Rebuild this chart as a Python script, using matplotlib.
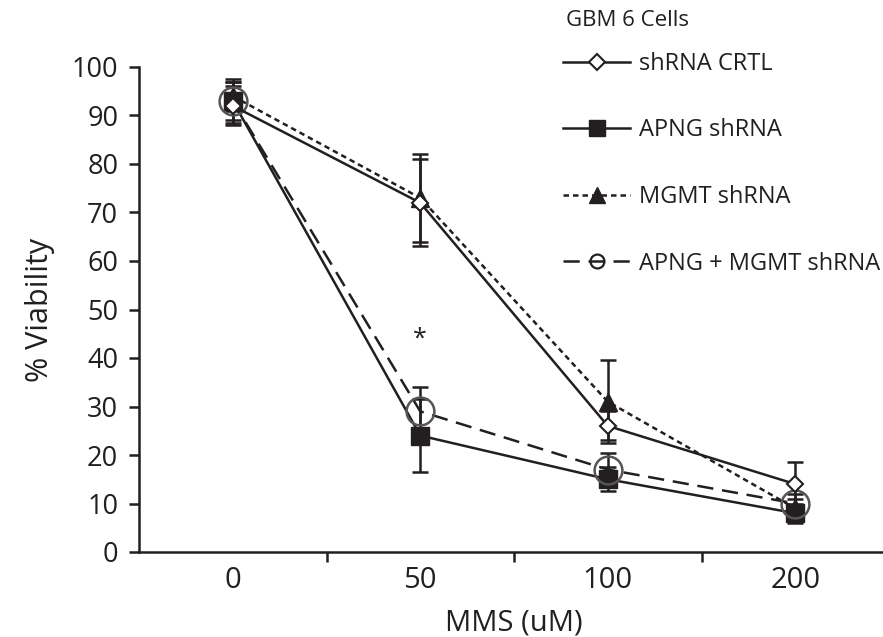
import matplotlib
matplotlib.use("Agg")
import matplotlib.pyplot as plt
from matplotlib.lines import Line2D
import numpy as np

plt.rcParams['font.family'] = ['Open Sans', 'DejaVu Sans']

doses = ["0", "50", "100", "200"]
series_names = ["shRNA CRTL", "APNG shRNA", "MGMT shRNA", "APNG + MGMT shRNA"]
crtl = [92, 72, 26, 14]
crtl_err = [4, 9, 3, 4.5]
apng = [93, 24, 15, 8]
apng_err = [4.5, 7.5, 2.5, 2]
mgmt = [94, 73, 31, 9]
mgmt_err = [3, 9, 8.5, 2]
both = [93, 29, 17, 10]
both_err = [4, 5, 3.5, 2]
legend_title = "GBM 6 Cells"
star_pos = (1, 44)

K = '#231f20'
fig = plt.figure(figsize=(8.83, 6.37), dpi=100)
ax = fig.add_axes([139/883, 85/637, 750/883, 485/637])
x = np.arange(len(doses))
lw = 1.8
d_mgmt = (2.2, 1.6)
d_both = (6.5, 3.5)

# error bars
for vals, errs in [(crtl, crtl_err), (apng, apng_err), (mgmt, mgmt_err), (both, both_err)]:
    ax.errorbar(x, vals, yerr=errs, fmt='none', ecolor=K, elinewidth=lw, capsize=6, capthick=lw, zorder=2)

ax.plot(x, crtl, color=K, lw=lw, marker='D', ms=8, mfc='white', mec=K, mew=1.5, zorder=4)
ax.plot(x, apng, color=K, lw=lw, marker='s', ms=13, mfc=K, mec=K, zorder=3)
ax.plot(x, mgmt, color=K, lw=lw, marker='^', ms=13, mfc=K, mec=K, zorder=3, dashes=d_mgmt)
ax.plot(x, both, color=K, lw=lw, marker='o', ms=20, mfc='none', mec='#555555', mew=1.8, zorder=3, dashes=d_both)

ax.text(star_pos[0], star_pos[1], '*', ha='center', va='center', fontsize=18, color=K)

ax.set_xlim(-0.5, 3.5)
ax.set_ylim(0, 100)
ax.set_yticks(np.arange(0, 101, 10))
ax.set_xticks(x)
ax.set_xticklabels(doses)
ax.set_xticks(np.arange(0.5, 3.0, 1.0), minor=True)
ax.tick_params(axis='x', which='major', length=0, pad=10, labelsize=21, colors=K)
ax.tick_params(axis='x', which='minor', length=7, width=1.8, direction='out', color=K)
ax.tick_params(axis='y', length=7, width=1.8, direction='out', labelsize=19.5, colors=K, pad=8)
for s in ['top', 'right']:
    ax.spines[s].set_visible(False)
for s in ['left', 'bottom']:
    ax.spines[s].set_linewidth(1.8)
    ax.spines[s].set_color(K)

ax.set_xlabel('MMS (uM)', fontsize=21, color=K, labelpad=10)
ax.set_ylabel('% Viability', fontsize=22, color=K, labelpad=12)

handles = [
    Line2D([], [], color=K, lw=lw, marker='D', ms=8, mfc='white', mec=K, mew=1.5),
    Line2D([], [], color=K, lw=lw, marker='s', ms=12, mfc=K, mec=K),
    Line2D([], [], color=K, lw=lw, marker='^', ms=12, mfc=K, mec=K, dashes=d_mgmt),
    Line2D([], [], color=K, lw=lw, marker='o', ms=10, mfc='none', mec=K, mew=1.6, dashes=d_both),
]
fig.text(566/883, 1 - 20/637, legend_title, fontsize=16, color=K, ha='left', va='center')
leg = fig.legend(handles=handles, labels=series_names, loc='upper left',
                 bbox_to_anchor=(563/883, 1 - 52/637), frameon=False,
                 fontsize=17, handlelength=2.85, handletextpad=0.35, labelspacing=1.8,
                 borderpad=0, borderaxespad=0)
for t in leg.get_texts():
    t.set_color(K)

fig.savefig('out.png', dpi=100)
